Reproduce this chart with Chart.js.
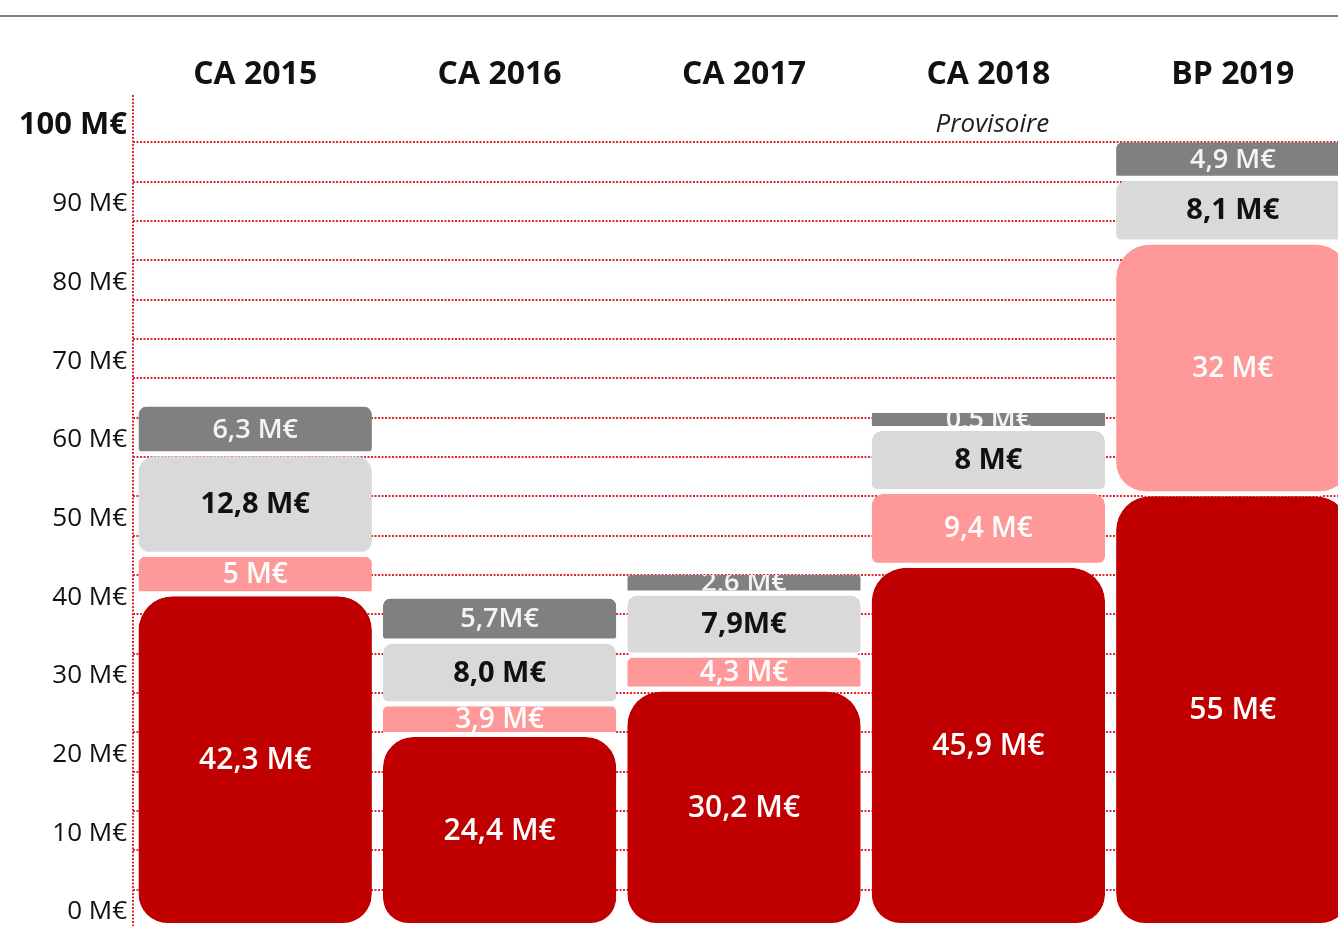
<!DOCTYPE html>
<html>
<head>
<meta charset="utf-8">
<script src="https://cdn.jsdelivr.net/npm/chart.js@4"></script>
<style>
  html, body { margin: 0; padding: 0; background: #fff; overflow: hidden; width: 1338px; height: 926px; }
  canvas { display: block; }
</style>
</head>
<body>
<canvas id="chart" width="1355" height="932"></canvas>
<script>
// categories and the small note under one of them
const CATEGORIES = ['CA 2015', 'CA 2016', 'CA 2017', 'CA 2018', 'BP 2019'];
const NOTES = ['', '', '', 'Provisoire', ''];

// series values (M€), bottom of the stack first
const RED_VALUES = [42.3, 24.4, 30.2, 45.9, 55];
const PINK_VALUES = [5, 3.9, 4.3, 9.4, 32];
const LIGHT_GREY_VALUES = [12.8, 8.0, 7.9, 8, 8.1];
const DARK_GREY_VALUES = [6.3, 5.7, 2.6, 0.5, 4.9];

// labels as written on the bars
const RED_LABELS = ['42,3 M€', '24,4 M€', '30,2 M€', '45,9 M€', '55 M€'];
const PINK_LABELS = ['5 M€', '3,9 M€', '4,3 M€', '9,4 M€', '32 M€'];
const LIGHT_GREY_LABELS = ['12,8 M€', '8,0 M€', '7,9M€', '8 M€', '8,1 M€'];
const DARK_GREY_LABELS = ['6,3 M€', '5,7M€', '2,6 M€', '0,5 M€', '4,9 M€'];

// y axis tick labels
const Y_TICK_VALUES = [0, 10, 20, 30, 40, 50, 60, 70, 80, 90, 100];

const DARK_RED = '#C00000';
const PINK = '#FF9999';
const LIGHT_GREY = '#D9D9D9';
const DARK_GREY = '#808080';
const GRID_RED = '#DD2A30';
const FONT = "'Open Sans', 'DejaVu Sans', sans-serif";

const GAP = 5;

/**
 * Rounded corners that grow with the size of the segment
 */
function cornerRadius(ctx) {
    const r = Math.min(34, (ctx.raw || 0) * 1.25);
    return {topLeft: r, topRight: r, bottomLeft: r, bottomRight: r};
}

function makeDataset(name, values, labels, colour, labelColour, labelFont) {
    return {
        label: name,
        data: values,
        valueLabels: labels,
        labelColour: labelColour,
        labelFont: labelFont,
        backgroundColor: colour,
        borderColor: '#ffffff',
        borderWidth: {top: 0, left: 0, right: 0, bottom: GAP},
        borderSkipped: false,
        borderRadius: cornerRadius,
        minBarLength: 18,
        categoryPercentage: 1,
        barPercentage: 0.955
    };
}

// grey rule at the top of the page + dotted axis line
const framePlugin = {
    id: 'frame',
    beforeDraw(chart) {
        const ctx = chart.ctx;
        ctx.save();
        ctx.strokeStyle = '#7F7F7F';
        ctx.lineWidth = 2;
        ctx.beginPath();
        ctx.moveTo(0, 16);
        ctx.lineTo(chart.width, 16);
        ctx.stroke();
        ctx.restore();
    },
    afterDraw(chart) {
        const ctx = chart.ctx;
        const area = chart.chartArea;
        ctx.save();
        ctx.strokeStyle = GRID_RED;
        ctx.lineWidth = 2;
        ctx.setLineDash([2, 1.5]);
        ctx.beginPath();
        ctx.moveTo(area.left, area.top);
        ctx.lineTo(area.left, chart.height);
        ctx.stroke();
        ctx.restore();
    }
};

// text written inside each segment, clipped to it
const segmentLabelPlugin = {
    id: 'segmentLabels',
    afterDatasetsDraw(chart) {
        const ctx = chart.ctx;
        chart.data.datasets.forEach((dataset, i) => {
            const meta = chart.getDatasetMeta(i);
            meta.data.forEach((bar, j) => {
                const {x, y, base, width} = bar.getProps(['x', 'y', 'base', 'width'], true);
                const top = Math.min(y, base);
                const bottom = Math.max(y, base) - GAP;
                ctx.save();
                ctx.beginPath();
                ctx.rect(x - width / 2, top, width, bottom - top);
                ctx.clip();
                ctx.font = dataset.labelFont;
                ctx.fillStyle = dataset.labelColour;
                ctx.textAlign = 'center';
                ctx.textBaseline = 'middle';
                ctx.fillText(dataset.valueLabels[j], x, (top + bottom) / 2 + 1);
                ctx.restore();
            });
        });
    }
};

// italic note below a category heading
const notePlugin = {
    id: 'notes',
    afterDraw(chart) {
        const ctx = chart.ctx;
        const xScale = chart.scales.x;
        ctx.save();
        ctx.font = 'italic 26px ' + FONT;
        ctx.fillStyle = '#222222';
        ctx.textAlign = 'center';
        ctx.textBaseline = 'middle';
        NOTES.forEach((note, i) => {
            if (note) {
                ctx.fillText(note, xScale.getPixelForValue(i) + 4, 125);
            }
        });
        ctx.restore();
    }
};

const chartElement = document.getElementById('chart').getContext('2d');
new Chart(chartElement, {
    type: 'bar',
    data: {
        labels: CATEGORIES,
        datasets: [
            makeDataset('Rouge', RED_VALUES, RED_LABELS, DARK_RED, '#ffffff', '600 30px ' + FONT),
            makeDataset('Rose', PINK_VALUES, PINK_LABELS, PINK, '#ffffff', '600 28px ' + FONT),
            makeDataset('Gris clair', LIGHT_GREY_VALUES, LIGHT_GREY_LABELS, LIGHT_GREY, '#111111', 'bold 29px ' + FONT),
            makeDataset('Gris foncé', DARK_GREY_VALUES, DARK_GREY_LABELS, DARK_GREY, '#F4F4F4', '600 27px ' + FONT)
        ]
    },
    options: {
        responsive: false,
        animation: false,
        layout: {padding: {top: 11, left: 0, right: 0, bottom: 3}},
        plugins: {
            legend: {display: false},
            tooltip: {enabled: false}
        },
        scales: {
            x: {
                position: 'top',
                stacked: true,
                grid: {display: false},
                border: {display: false},
                ticks: {
                    color: '#111111',
                    font: {family: FONT, size: 32, weight: 'bold'},
                    padding: -7,
                    maxRotation: 0
                },
                afterFit(scale) {
                    scale.height = 84;
                    scale.paddingLeft = 0;
                    scale.paddingRight = 0;
                }
            },
            y: {
                stacked: true,
                min: 0,
                max: 106,
                border: {display: false, dash: [2, 1.5]},
                grid: {
                    color: GRID_RED,
                    lineWidth: 2,
                    drawTicks: false
                },
                afterBuildTicks(scale) {
                    const ticks = [];
                    for (let v = 0; v <= 100; v += 5) ticks.push({value: v});
                    scale.ticks = ticks;
                },
                ticks: {
                    autoSkip: false,
                    padding: 6,
                    labelOffset: -17,
                    color: '#111111',
                    font: ctx => (ctx.tick && ctx.tick.value === 100)
                        ? {family: FONT, size: 31, weight: 'bold'}
                        : {family: FONT, size: 26},
                    callback: value => Y_TICK_VALUES.includes(value) ? value + ' M€' : ''
                },
                afterFit(scale) {
                    scale.width = 133;
                    scale.paddingTop = 0;
                    scale.paddingBottom = 0;
                }
            }
        }
    },
    plugins: [framePlugin, segmentLabelPlugin, notePlugin]
});
</script>
</body>
</html>
